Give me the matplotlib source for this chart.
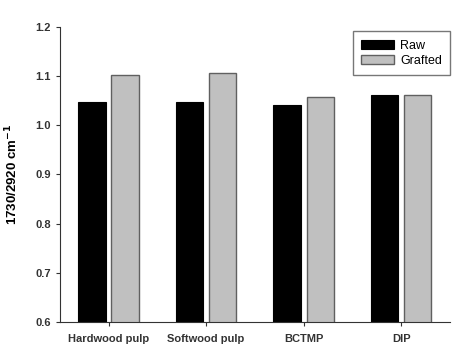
import matplotlib.pyplot as plt
import numpy as np

plt.rcParams['font.family'] = ['Liberation Sans', 'DejaVu Sans']

categories = ['Hardwood pulp', 'Softwood pulp', 'BCTMP', 'DIP']
raw = [1.048, 1.048, 1.041, 1.061]
grafted = [1.103, 1.107, 1.057, 1.062]

fig = plt.figure(figsize=(4.6, 3.53), dpi=100)
ax = fig.add_axes([0.130, 0.088, 0.848, 0.8355])

x = np.arange(len(categories))
w = 0.28
ax.bar(x - 0.17, raw, w, color='black', edgecolor='black', linewidth=0.8, label='Raw')
ax.bar(x + 0.17, grafted, w, color='#c0c0c0', edgecolor='#606060', linewidth=1.0, label='Grafted')

ax.set_xlim(-0.5, 3.5)
ax.set_ylim(0.6, 1.2)
ax.set_yticks([0.6, 0.7, 0.8, 0.9, 1.0, 1.1, 1.2])
ax.set_xticks(x)
ax.set_xticklabels(categories, fontsize=8, fontweight='bold', color='#333333')
ax.tick_params(axis='y', labelsize=8, length=3, width=0.8, colors='#333333')
ax.tick_params(axis='x', length=3, width=0.8, colors='#333333', pad=6)
for lab in ax.get_yticklabels():
    lab.set_fontweight('bold')
ax.spines['top'].set_visible(False)
ax.spines['right'].set_visible(False)
ax.spines['left'].set_color('#333333')
ax.spines['bottom'].set_color('#333333')
ax.set_ylabel('1730/2920 cm$^{\\mathbf{-1}}$', fontsize=9.5, fontweight='bold', labelpad=11)

leg = ax.legend(loc='upper right', bbox_to_anchor=(1.0, 0.985), fontsize=9, frameon=True,
                fancybox=False, edgecolor='#555555', handlelength=2.6, handleheight=0.8,
                borderpad=0.65, labelspacing=0.25, handletextpad=0.5, borderaxespad=0.0)
leg.get_frame().set_linewidth(1.0)

fig.savefig('out.png', dpi=100)
